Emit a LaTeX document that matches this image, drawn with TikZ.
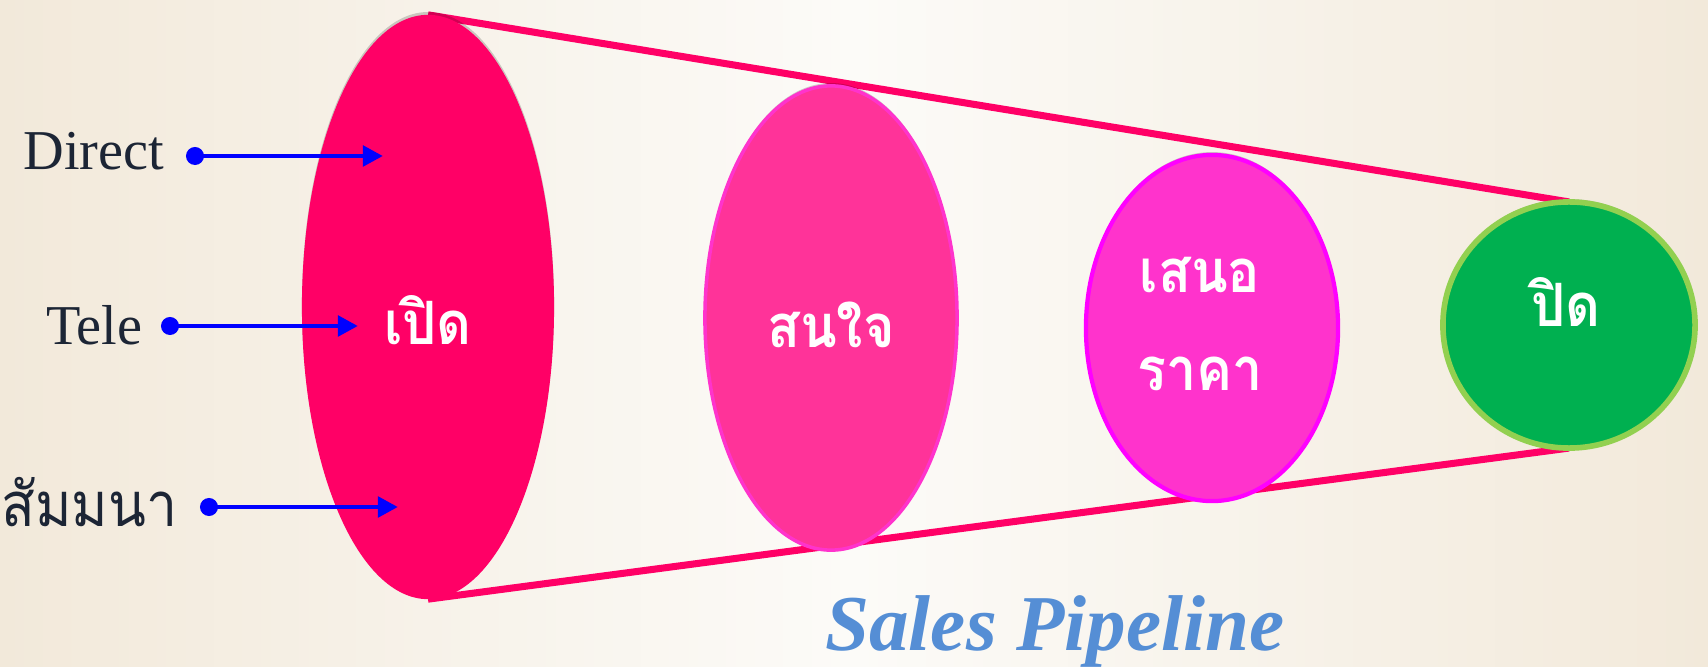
\documentclass[tikz,border=0pt]{standalone}
\usepackage{fontspec}
\setmainfont{Liberation Serif}
\newfontfamily\thaifont[Script=Thai, FakeStretch=0.9]{Loma}
\usetikzlibrary{arrows.meta,positioning,shapes.geometric,shadows}
\definecolor{bgside}{HTML}{F2E9DA}
\definecolor{bgmid}{HTML}{FCFBF8}
\definecolor{funnel}{HTML}{FF0066}
\definecolor{hotpink}{HTML}{FF3399}
\definecolor{pinkrim}{HTML}{FF33CC}
\definecolor{magrim}{HTML}{FF00FF}
\definecolor{wingreen}{HTML}{00B050}
\definecolor{winrim}{HTML}{92D050}
\definecolor{inkblue}{HTML}{1C2535}
\definecolor{titleblue}{HTML}{558ED5}
\pgfdeclarelayer{bg}
\pgfdeclarelayer{mid}
\pgfsetlayers{bg,mid,main}

\begin{document}
\begin{tikzpicture}[x=0.01cm, y=-0.01cm,
  stage/.style={ellipse, inner sep=0pt, outer sep=0pt, minimum width=2.52cm,
    drop shadow={shadow xshift=0pt, shadow yshift=0.8pt, opacity=0.18, fill=black}},
  stgtxt/.style={text=white, font=\thaifont\bfseries\fontsize{17}{21}\selectfont, inner sep=0pt, anchor=base},
  srclbl/.style={text=inkblue, inner sep=0pt, anchor=base east},
  dot/.style={circle, fill=blue, inner sep=0pt, minimum size=0.18cm},
  feed/.style={draw=blue, line width=1.4pt, -{Triangle[length=0.2cm,width=0.2cm]}},
  rim/.style={draw=funnel, line width=2pt}]
  \useasboundingbox (0,0) rectangle (1708,667);
  \begin{pgfonlayer}{bg}
    \shade[left color=bgside, right color=bgside, middle color=bgmid] (0,0) rectangle (1708,667);
  \end{pgfonlayer}

  % funnel stages
  \node[stage, minimum height=5.84cm, fill=funnel] (open) at (428,307) {};
  \node[stage, minimum height=4.64cm, fill=hotpink, draw=pinkrim, line width=1pt] (lead) at (831,318) {};
  \node[stage, minimum height=3.46cm, fill=pinkrim, draw=magrim, line width=1.2pt] (quote) at (1212,328) {};
  \node[stage, minimum height=2.46cm, fill=wingreen, draw=winrim, line width=1.6pt] (close) at (1569,325) {};

  \begin{pgfonlayer}{mid}
    \draw[rim] (open.north) -- (close.north);
    \draw[rim] (open.south) -- (close.south);
  \end{pgfonlayer}

  \node[stgtxt] at (428,345) {เปิด};
  \node[stgtxt] at (831,348) {สนใจ};
  \node[stgtxt] at (1200,293) {เสนอ};
  \node[stgtxt] at (1200,390) {ราคา};
  \node[stgtxt] at (1566,327) {ปิด};

  % sources
  \node[dot] (dDir) at (195,156) {};
  \node[dot] (dTel) at (170,326) {};
  \node[dot] (dSem) at (209,507) {};
  \coordinate (hDir) at (383,156);
  \coordinate (hTel) at (358,326);
  \coordinate (hSem) at (398,507);
  \draw[feed] (dDir.center) -- (hDir);
  \draw[feed] (dTel.center) -- (hTel);
  \draw[feed] (dSem.center) -- (hSem);
  \node[srclbl, font=\fontsize{16}{19}\selectfont] (tDir) at (165,170) {Direct};
  \node[srclbl, font=\fontsize{16}{19}\selectfont] (tTel) at (143,345) {Tele};
  \node[srclbl, font=\thaifont\fontsize{17.5}{21}\selectfont] (tSem) at (178,527) {สัมมนา};

  \node[text=titleblue, font=\bfseries\itshape\fontsize{22.5}{27}\selectfont, inner sep=0pt, anchor=base] (title) at (1055,650) {Sales Pipeline};
\end{tikzpicture}
\end{document}
